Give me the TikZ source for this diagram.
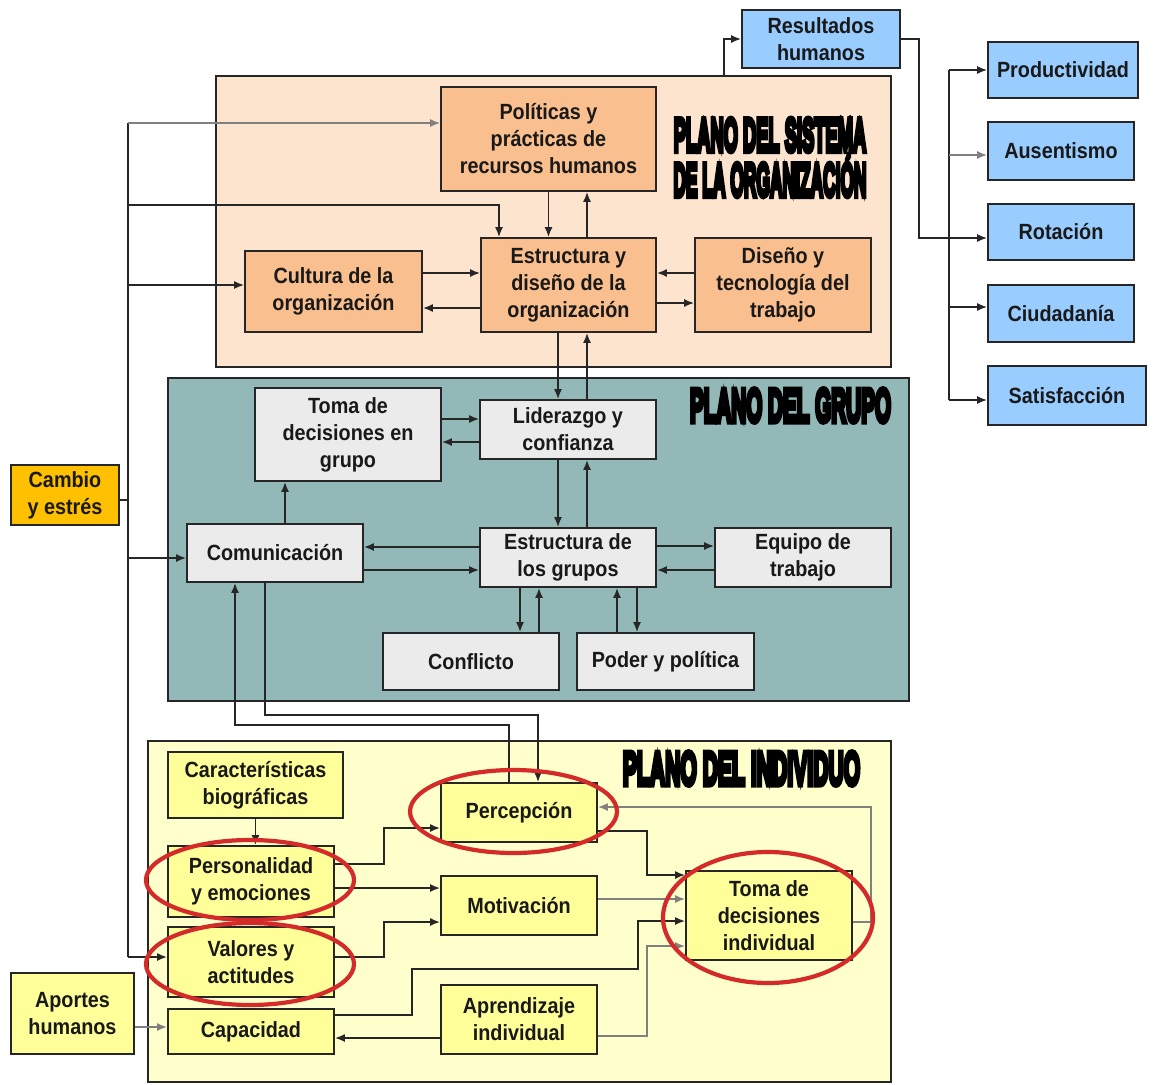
\documentclass[tikz,border=0pt]{standalone}
\usepackage{fontspec}
\setmainfont{Liberation Sans}[FakeStretch=0.9]
\font\titlefnt="Liberation Sans/B:embolden=12" at 47pt
\newcommand\ttlsetup{\titlefnt\baselineskip=45pt\relax}
\usetikzlibrary{arrows.meta,calc}
\definecolor{orgbg}{HTML}{FCE4CE}
\definecolor{orgbox}{HTML}{FABF8F}
\definecolor{grpbg}{HTML}{93B8B8}
\definecolor{grpbox}{HTML}{EBEBEB}
\definecolor{indbg}{HTML}{FFFFCC}
\definecolor{indbox}{HTML}{FFFF99}
\definecolor{bluebox}{HTML}{99CCFF}
\definecolor{goldbox}{HTML}{FFC000}
\definecolor{ovalred}{HTML}{D42A2A}
\begin{document}
\begin{tikzpicture}[x=1pt,y=-1pt,
  box/.style={draw=black!85, line width=1.8pt, inner sep=0pt, align=center,
    text=black!90, font=\fontsize{22}{27}\selectfont\bfseries},
  plane/.style={draw=black!85, line width=1.8pt, inner sep=0pt},
  ttl/.style={inner sep=0pt, align=center, font=\ttlsetup},
  arr/.style={line width=1.6pt, draw=black!85, -{Latex[length=10pt,width=8pt]}},
  garr/.style={arr, draw=black!50},
  ln/.style={line width=1.6pt, draw=black!85},
  oval/.style={draw=ovalred, line width=4.2pt},
]
\useasboundingbox (0,0) rectangle (1156,1084);
\fill[white] (0,0) rectangle (1156,1084);

% planes
\node[plane, fill=orgbg, minimum width=675pt, minimum height=291pt] (orgp) at (553.5,221.5) {};
\node[plane, fill=grpbg, minimum width=741pt, minimum height=323pt] (grpp) at (538.5,539.5) {};
\node[plane, fill=indbg, minimum width=743pt, minimum height=341pt] (indp) at (519.5,911.5) {};

% titles
\begin{scope}
\clip (660,115.5) rectangle (888,212);
\node[ttl] (t1) at (770,157.5) {\scalebox{0.39}[1]{PLANO DEL SISTEMA}\\\scalebox{0.37}[1]{DE LA ORGANIZACIÓN}};
\end{scope}
\node[ttl] (t2) at (790.5,405.5) {\scalebox{0.44}[1]{PLANO DEL GRUPO}};
\node[ttl] (t3) at (741.5,768.5) {\scalebox{0.45}[1]{PLANO DEL INDIVIDUO}};

% organization boxes
\node[box, fill=orgbox, minimum width=215pt, minimum height=104pt] (pol) at (548.5,139) {Políticas y\\prácticas de\\recursos humanos};
\node[box, fill=orgbox, minimum width=175pt, minimum height=94pt] (eo) at (568.5,285) {Estructura y\\diseño de la\\organización};
\node[box, fill=orgbox, minimum width=177pt, minimum height=81pt] (cul) at (333.5,291.5) {Cultura de la\\organización};
\node[box, fill=orgbox, minimum width=176pt, minimum height=94pt] (dis) at (783,285) {Diseño y\\tecnología del\\trabajo};

% results
\node[box, fill=bluebox, minimum width=158pt, minimum height=58pt] (res) at (821,39) {Resultados\\humanos};
\node[box, fill=bluebox, minimum width=150pt, minimum height=56pt] (prod) at (1063,70) {Productividad};
\node[box, fill=bluebox, minimum width=146pt, minimum height=58pt] (aus) at (1061,151) {Ausentismo};
\node[box, fill=bluebox, minimum width=146pt, minimum height=56pt] (rot) at (1061,232) {Rotación};
\node[box, fill=bluebox, minimum width=146pt, minimum height=57pt] (ciu) at (1061,313.5) {Ciudadanía};
\node[box, fill=bluebox, minimum width=158pt, minimum height=59pt] (sat) at (1067,395.5) {Satisfacción};

% group boxes
\node[box, fill=grpbox, minimum width=186pt, minimum height=93pt] (tdg) at (348,434.5) {Toma de\\decisiones en\\grupo};
\node[box, fill=grpbox, minimum width=176pt, minimum height=59pt] (lid) at (568,429.5) {Liderazgo y\\confianza};
\node[box, fill=grpbox, minimum width=176pt, minimum height=58pt] (com) at (275,553) {Comunicación};
\node[box, fill=grpbox, minimum width=176pt, minimum height=59pt] (eg) at (568,557.5) {Estructura de\\los grupos};
\node[box, fill=grpbox, minimum width=176pt, minimum height=59pt] (eq) at (803,557.5) {Equipo de\\trabajo};
\node[box, fill=grpbox, minimum width=176pt, minimum height=57pt] (con) at (471,661.5) {Conflicto};
\node[box, fill=grpbox, minimum width=177pt, minimum height=57pt] (pod) at (665.5,661.5) {Poder y política};

\node[box, fill=goldbox, minimum width=108pt, minimum height=60pt] (cam) at (65,495) {Cambio\\y estrés};

% individual boxes
\node[box, fill=indbox, minimum width=175pt, minimum height=66pt] (car) at (255.5,785) {Características\\biográficas};
\node[box, fill=indbox, minimum width=166pt, minimum height=71pt] (per) at (251,881.5) {Personalidad\\y emociones};
\node[box, fill=indbox, minimum width=166pt, minimum height=70pt] (val) at (251,962) {Valores y\\actitudes};
\node[box, fill=indbox, minimum width=166pt, minimum height=45pt] (cap) at (251,1031.5) {Capacidad};
\node[box, fill=indbox, minimum width=123pt, minimum height=81pt] (apo) at (72.5,1013.5) {Aportes\\humanos};
\node[box, fill=indbox, minimum width=156pt, minimum height=59pt] (perc) at (519,812.5) {Percepción};
\node[box, fill=indbox, minimum width=156pt, minimum height=59pt] (mot) at (519,905.5) {Motivación};
\node[box, fill=indbox, minimum width=156pt, minimum height=69pt] (apr) at (519,1019.5) {Aprendizaje\\individual};
\node[box, fill=indbox, minimum width=166pt, minimum height=89pt] (tdi) at (769,915.5) {Toma de\\decisiones\\individual};

% ---- connectors ----
% organization -> results
\draw[arr] ([xshift=509pt]orgp.north west) |- (res.west);
\coordinate (rotin) at ([yshift=-6pt]rot.west);
\draw[arr] (res.east) -- ++(18,0) |- (rotin);
\coordinate (br) at (949,0);
\coordinate (ausin) at ([yshift=-4pt]aus.west);
\coordinate (ciuin) at ([yshift=6.5pt]ciu.west);
\coordinate (satin) at ([yshift=-4.5pt]sat.west);
\draw[ln] (br |- prod.west) -- (br |- satin);
\draw[arr] (br |- prod.west) -- (prod.west);
\draw[garr] (br |- ausin) -- (ausin);
\draw[arr] (br |- ciuin) -- (ciuin);
\draw[arr] (br |- satin) -- (satin);

% trunk from Cambio y estres
\coordinate (trk) at (128,0);
\coordinate (polin) at ([yshift=16pt]pol.west);
\coordinate (culin) at ([yshift=6.5pt]cul.west);
\coordinate (comin) at ([yshift=-5pt]com.west);
\coordinate (valin) at ([yshift=5pt]val.west);
\coordinate (camout) at ([yshift=-5pt]cam.east);
\coordinate (eoin) at ([xshift=-69.5pt]eo.north);
\draw[ln] (trk |- polin) -- (trk |- valin);
\draw[ln] (camout) -- (trk |- camout);
\draw[garr] (trk |- polin) -- (polin);
\draw[arr] (128,205) -| (eoin);
\draw[arr] (trk |- culin) -- (culin);
\draw[arr] (trk |- comin) -- (comin);
\draw[arr] (trk |- valin) -- (valin);

% politicas <-> estructura org
\coordinate (eoup) at ([xshift=18.5pt]eo.north);
\draw[arr] (pol.south) -- (pol.south |- eo.north);
\draw[arr] (eoup) -- (eoup |- pol.south);
% cultura <-> estructura
\coordinate (c1) at ([yshift=18.5pt]cul.east);
\coordinate (c2) at ([yshift=-16.5pt]cul.east);
\draw[arr] (c1) -- (c1 -| eo.west);
\draw[arr] (c2 -| eo.west) -- (c2);
% diseno <-> estructura
\coordinate (d1) at ([yshift=12pt]dis.west);
\coordinate (d2) at ([yshift=-18pt]dis.west);
\draw[arr] (d1) -- (d1 -| eo.east);
\draw[arr] (d2 -| eo.east) -- (d2);
% estructura org <-> liderazgo
\coordinate (e1) at ([xshift=-10.5pt]eo.south);
\coordinate (e2) at ([xshift=18.5pt]eo.south);
\draw[arr] (e1) -- (e1 |- lid.north);
\draw[arr] (e2 |- lid.north) -- (e2);
% toma grupo <-> liderazgo
\coordinate (l1) at ([yshift=10.5pt]lid.west);
\coordinate (l2) at ([yshift=-12.5pt]lid.west);
\draw[arr] (l1 -| tdg.east) -- (l1);
\draw[arr] (l2) -- (l2 -| tdg.east);
% liderazgo <-> estructura grupos
\coordinate (g1) at ([xshift=-10pt]eg.north);
\coordinate (g2) at ([xshift=19pt]eg.north);
\draw[arr] (g1 |- lid.south) -- (g1);
\draw[arr] (g2) -- (g2 |- lid.south);
% comunicacion -> toma grupo
\coordinate (m1) at ([xshift=10pt]com.north);
\draw[arr] (m1) -- (m1 |- tdg.south);
% estructura grupos <-> comunicacion
\coordinate (h1) at ([yshift=10.5pt]eg.west);
\coordinate (h2) at ([yshift=-12.5pt]eg.west);
\draw[arr] (h1) -- (h1 -| com.east);
\draw[arr] (h2 -| com.east) -- (h2);
% estructura grupos <-> equipo
\coordinate (q1) at ([yshift=11.5pt]eg.east);
\coordinate (q2) at ([yshift=-12.5pt]eg.east);
\draw[arr] (q1) -- (q1 -| eq.west);
\draw[arr] (q2 -| eq.west) -- (q2);
% estructura grupos <-> conflicto
\coordinate (k1) at ([xshift=-48pt]eg.south);
\coordinate (k2) at ([xshift=-29pt]eg.south);
\draw[arr] (k1) -- (k1 |- con.north);
\draw[arr] (k2 |- con.north) -- (k2);
% estructura grupos <-> poder
\coordinate (p1) at ([xshift=49pt]eg.south);
\coordinate (p2) at ([xshift=69pt]eg.south);
\draw[arr] (p1 |- pod.north) -- (p1);
\draw[arr] (p2) -- (p2 |- pod.north);
% comunicacion <-> percepcion
\coordinate (r1) at ([xshift=-10pt]com.south);
\coordinate (r2) at ([xshift=19pt]perc.north);
\draw[arr] (r1) -- ++(0,132) -| (r2);
\coordinate (s1) at ([xshift=-10pt]perc.north);
\coordinate (s2) at ([xshift=-40pt]com.south);
\draw[arr] (s1) -- ++(0,-57) -| (s2);

% individual plane
\draw[arr] (car.south) -- (car.south |- per.north);
\coordinate (u1) at ([yshift=17.5pt]per.east);
\coordinate (u2) at ([yshift=-15.5pt]perc.west);
\draw[arr] (u1) -- ++(49,0) |- (u2);
\coordinate (v1) at ([yshift=17.5pt]mot.west);
\draw[arr] (v1 -| per.east) -- (v1);
\coordinate (w1) at ([yshift=5pt]val.east);
\coordinate (w2) at ([yshift=-16.5pt]mot.west);
\draw[arr] (w1) -- ++(49,0) |- (w2);
\coordinate (x1) at ([yshift=16.5pt]cap.east);
\coordinate (x2) at ([yshift=-5.5pt]tdi.west);
\draw[arr] (x1) -- ++(77,0) -- ++(0,-46) -- ++(226,0) |- (x2);
\coordinate (y1) at ([yshift=-18.5pt]apr.west);
\draw[arr] (y1) -- (y1 -| cap.east);
\coordinate (z1) at ([yshift=-16.5pt]apr.east);
\coordinate (z2) at ([yshift=-30.5pt]tdi.west);
\draw[garr] (z1) -- ++(49,0) |- (z2);
\coordinate (a1) at ([yshift=-18.5pt]perc.east);
\coordinate (a2) at ([yshift=40.5pt]tdi.west);
\draw[arr] (a1) -- ++(49,0) |- (a2);
\coordinate (b1) at ([yshift=16.5pt]tdi.west);
\draw[garr] (b1 -| mot.east) -- (b1);
\coordinate (f1) at ([yshift=-6.5pt]tdi.east);
\coordinate (f2) at ([yshift=5.5pt]perc.east);
\draw[garr] (f1) -- ++(18,0) |- (f2);
\coordinate (o1) at ([yshift=4.5pt]cap.west);
\draw[garr] (o1 -| apo.east) -- (o1);

% red highlight ellipses
\draw[oval] (513.5,811.5) ellipse [x radius=103.5pt, y radius=41.5pt];
\draw[oval] (250,880) ellipse [x radius=104pt, y radius=40pt];
\draw[oval] (250,964) ellipse [x radius=104pt, y radius=41pt];
\draw[oval] (768,917.5) ellipse [x radius=105pt, y radius=65.5pt];
\end{tikzpicture}
\end{document}
